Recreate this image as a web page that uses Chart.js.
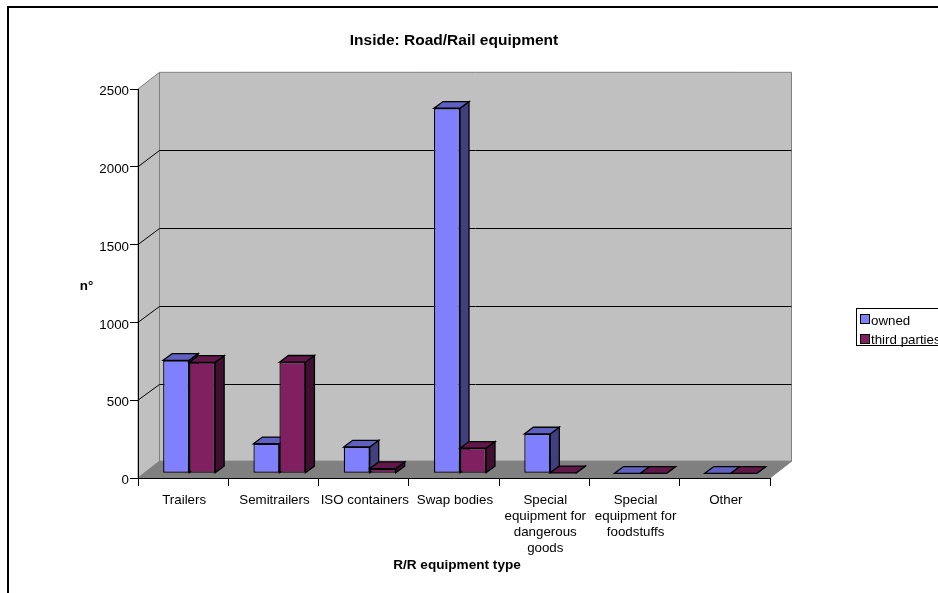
<!DOCTYPE html>
<html>
<head>
<meta charset="utf-8">
<title>Inside: Road/Rail equipment</title>
<script src="https://cdn.jsdelivr.net/npm/chart.js@4"></script>
<style>
  html, body { margin: 0; padding: 0; width: 938px; height: 593px; overflow: hidden; background: #fff; }
  #chart { display: block; position: absolute; left: 0; top: 0; }
  #legend {
    position: absolute; left: 856px; top: 308px; width: 100px; height: 36px;
    border: 1px solid #000; background: #fff;
    font: 13.33px "Liberation Sans", Arial, sans-serif; color: #000;
  }
  #legend .row { position: absolute; left: 3px; white-space: nowrap; line-height: 16px; }
  #legend .swatch {
    position: absolute; left: 0; top: 1.5px; width: 8px; height: 8px; border: 1px solid #000;
  }
  #legend .label { margin-left: 11px; }
</style>
</head>
<body>
<canvas id="chart" width="938" height="593"></canvas>
<div id="legend"></div>
<script>
const categories = [
  "Trailers",
  "Semitrailers",
  "ISO containers",
  "Swap bodies",
  ["Special", "equipment for", "dangerous", "goods"],
  ["Special", "equipment for", "foodstuffs"],
  "Other"
];
const owned = [726, 190, 169, 2346, 253, 0, 0];
const thirdParties = [713, 714, 30, 161, 3, 0, 0];

const FONT = '"Liberation Sans", Arial, sans-serif';
const FONT_SIZE = 13.33;
const OUTLINE = 1.3;

// depth of the room behind the axes, and of each bar
const ROOM_DX = 21.5, ROOM_DY = 16.7;
const BAR_DX = 9, BAR_DY = 6.7;
// bars stand a little way back from the front edge of the floor
const BAR_SHIFT_X = 6, BAR_SHIFT_Y = 4.7;

function poly(ctx, pts, fill, stroke, width) {
  ctx.beginPath();
  pts.forEach((p, i) => i ? ctx.lineTo(p[0], p[1]) : ctx.moveTo(p[0], p[1]));
  ctx.closePath();
  if (fill) { ctx.fillStyle = fill; ctx.fill(); }
  if (stroke) { ctx.strokeStyle = stroke; ctx.lineWidth = width || 1; ctx.stroke(); }
}

// outer frame, walls, floor and gridlines
const room3d = {
  id: "room3d",
  beforeDraw(chart) {
    const { ctx, scales: { x, y } } = chart;
    const l = x.left, r = x.right, t = y.getPixelForValue(2500), b = y.getPixelForValue(0);
    const dx = ROOM_DX, dy = ROOM_DY;
    ctx.save();

    ctx.fillStyle = "#000";
    ctx.fillRect(7, 6, 931, 2);
    ctx.fillRect(7, 6, 2, 587);

    poly(ctx, [[l + dx, t - dy], [r + dx, t - dy], [r + dx, b - dy], [l + dx, b - dy]], "#c0c0c0", "#808080");
    poly(ctx, [[l, t], [l + dx, t - dy], [l + dx, b - dy], [l, b]], "#c0c0c0", "#808080");
    poly(ctx, [[l, b], [l + dx, b - dy], [r + dx, b - dy], [r, b]], "#808080", "#808080");

    ctx.strokeStyle = "#000";
    ctx.lineWidth = 1;
    y.ticks.forEach(tick => {
      if (tick.value === 0 || tick.value === 2500) return;
      const py = y.getPixelForValue(tick.value);
      ctx.beginPath();
      ctx.moveTo(l, py);
      ctx.lineTo(l + dx, Math.round(py - dy) + 0.5);
      ctx.lineTo(r + dx, Math.round(py - dy) + 0.5);
      ctx.stroke();
    });
    ctx.restore();
  }
};

// each bar gets its top and side faces first, so the next bar's front covers them
const bars3d = {
  id: "bars3d",
  beforeDatasetsDraw(chart) {
    const ctx = chart.ctx;
    const sets = chart.data.datasets.map((d, i) => ({ d, bars: chart.getDatasetMeta(i).data }));
    ctx.save();
    ctx.translate(BAR_SHIFT_X, -BAR_SHIFT_Y);
    categories.forEach((_, c) => {
      sets.forEach(({ d, bars }) => {
        const bar = bars[c];
        const half = bar.width / 2;
        const l = bar.x - half, r = bar.x + half, top = bar.y, base = bar.base;
        poly(ctx, [[r, top], [r + BAR_DX, top - BAR_DY], [r + BAR_DX, base - BAR_DY], [r, base]], d.sideColor, "#000", OUTLINE);
        poly(ctx, [[l, top], [l + BAR_DX, top - BAR_DY], [r + BAR_DX, top - BAR_DY], [r, top]], d.topColor, "#000", OUTLINE);
        bar.draw(ctx);
      });
    });
    ctx.restore();
    return false;
  }
};

// axis titles: the y one sits level, the x one a little right of the axis centre
const axisTitles = {
  id: "axisTitles",
  afterDraw(chart) {
    const ctx = chart.ctx;
    ctx.save();
    ctx.fillStyle = "#000";
    ctx.textAlign = "center";
    ctx.textBaseline = "middle";
    ctx.font = "bold " + FONT_SIZE + "px " + FONT;
    ctx.fillText("n°", 86.5, 286.5);
    ctx.font = "bold 13.6px " + FONT;
    ctx.fillText("R/R equipment type", 457, 565.5);
    ctx.restore();
  }
};

const chart = new Chart(document.getElementById("chart"), {
  type: "bar",
  data: {
    labels: categories,
    datasets: [
      { label: "owned", data: owned, backgroundColor: "#8080ff", topColor: "#6060c0", sideColor: "#404080" },
      { label: "third parties", data: thirdParties, backgroundColor: "#802060", topColor: "#601848", sideColor: "#401030" }
    ]
  },
  options: {
    responsive: false,
    animation: false,
    layout: { padding: { left: 0, right: 168, top: 0, bottom: 0 } },
    datasets: {
      bar: { categoryPercentage: 0.576, barPercentage: 1, borderColor: "#000", borderWidth: OUTLINE, borderSkipped: false }
    },
    plugins: {
      legend: { display: false },
      tooltip: { enabled: false },
      title: {
        display: true,
        fullSize: false,
        text: "Inside: Road/Rail equipment",
        color: "#000",
        font: { family: FONT, size: 15.5, weight: "bold" },
        padding: { top: 31.7, bottom: 38.7 }
      }
    },
    scales: {
      x: {
        afterFit(scale) { scale.height = 115; },
        grid: { drawOnChartArea: false, color: "#000", tickLength: 8 },
        border: { color: "#000" },
        ticks: { color: "#000", font: { family: FONT, size: FONT_SIZE }, maxRotation: 0, autoSkip: false, padding: 6, labelOffset: 1 }
      },
      y: {
        min: 0,
        max: 2500,
        afterFit(scale) { scale.width = 138; },
        grid: { drawOnChartArea: false, color: "#000", tickLength: 8 },
        border: { color: "#000" },
        ticks: {
          stepSize: 500,
          color: "#000",
          font: { family: FONT, size: FONT_SIZE },
          padding: 1,
          labelOffset: 2.5,
          callback: value => String(value)
        }
      }
    }
  },
  plugins: [room3d, bars3d, axisTitles]
});

// legend lives beside the canvas and is filled from the chart's own datasets
const legendEl = document.getElementById("legend");
chart.options.plugins.legend.labels.generateLabels(chart).forEach((item, i) => {
  const row = document.createElement("div");
  row.className = "row";
  row.style.top = (3.5 + i * 19.5) + "px";
  const swatch = document.createElement("span");
  swatch.className = "swatch";
  swatch.style.background = item.fillStyle;
  const label = document.createElement("span");
  label.className = "label";
  label.textContent = item.text;
  row.append(swatch, label);
  legendEl.appendChild(row);
});
</script>
</body>
</html>
